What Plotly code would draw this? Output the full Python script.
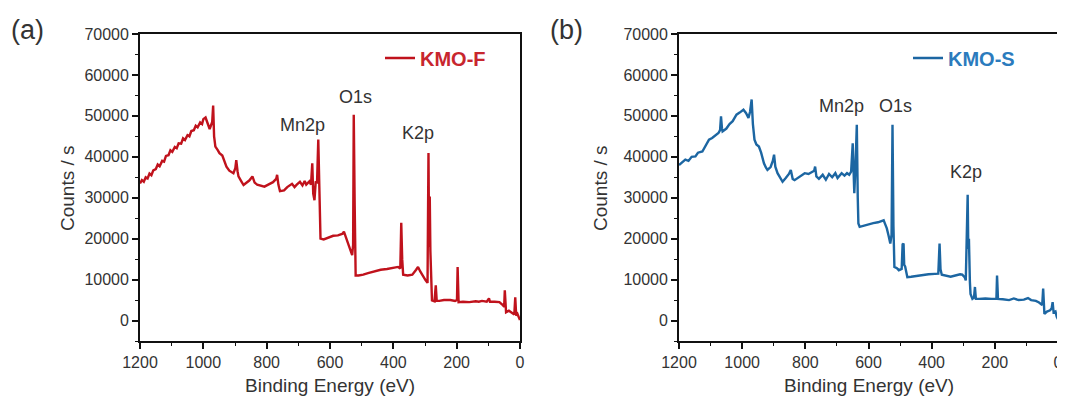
import plotly.graph_objects as go

# ---------------- data ----------------
be_a = [1200, 1194, 1188, 1182, 1176, 1170, 1164, 1158, 1150, 1144, 1138, 1130, 1124, 1118, 1110, 1104,
        1098, 1090, 1084, 1078, 1070, 1064, 1058, 1050, 1044, 1038, 1030, 1024, 1018, 1010, 1004, 1000,
        993, 985, 980, 972, 969, 966, 962, 955, 949, 940, 932, 927, 918,
        905, 899, 896, 892, 889, 880, 873, 865, 855, 845, 838, 830, 820, 807, 795, 780, 770, 767, 763,
        758, 745, 735, 720, 712, 705, 695, 687, 680, 675, 665, 660, 656, 653, 649, 645, 641, 637, 634, 632, 630,
        620, 605, 590, 575, 560, 556, 550, 545, 538, 530, 527, 525, 522, 519, 510, 495, 480, 460, 440,
        420, 400, 385, 378, 375, 372, 369, 355, 340, 328, 322, 315, 305, 298, 292, 289, 287, 285, 283,
        280, 278, 270, 266, 263, 255, 240, 220, 205, 199, 197, 194, 180, 160, 140, 130, 120, 105, 98,
        95, 80, 65, 55, 50, 48, 46, 44, 35, 25, 18, 15, 12, 8, 5, 0]
cps_a = [33500, 34300, 33900, 35000, 34700, 35900, 35500, 36700, 37000, 38100, 37700, 39000, 38800, 40200,
         40400, 41600, 41200, 42400, 42100, 43300, 43200, 44500, 44100, 45300, 45000, 46300, 46500, 47600,
         47200, 48400, 48000, 49200, 49600, 48000, 46800, 48500, 52500, 45000, 42500,
         41700, 40900, 40300, 38500, 37600, 36600, 36000, 37200, 39200, 36500, 35200, 34000, 33100, 33600,
         34200, 35200, 33700, 33200, 32900, 32700, 33200, 33800, 34600, 35600, 33200, 31600, 31800, 32600,
         33400, 32600, 33200, 33900, 33000, 34100, 33200, 34000, 33200, 38400, 31000, 29400, 34000, 33500,
         44200, 30000, 27800, 20000, 19800, 20300, 20700, 20800, 21200, 21700, 20400, 19200, 17800, 16000,
         18500, 50300, 28000, 11000, 11000, 11200, 11600, 12000, 12400, 12600, 12800, 13100, 12700, 23900,
         15000, 11200, 11000, 11200, 12400, 13100, 12000, 10500, 9800, 9200, 40900, 18000, 30300, 17000,
         9000, 4900, 4700, 8600, 4800, 4800, 5000, 5000, 4800, 5000, 13100, 4500, 4600, 4500, 4700, 4600,
         4800, 4600, 5400, 4600, 4600, 4500, 3800, 3400, 7400, 3600, 2000, 2400, 1800, 1500, 5700, 1200,
         1600, 800, 100]

be_b = [1200, 1190, 1180, 1170, 1160, 1148, 1140, 1126, 1115, 1105, 1095, 1085, 1075, 1070, 1067, 1064,
        1062, 1050, 1040, 1030, 1018, 1008, 996, 988, 980, 975, 970, 966, 961, 955, 947, 940, 931, 925,
        920, 910, 903, 899, 895, 888, 880, 872, 862, 852, 846, 840, 834, 820, 810, 802, 790, 780, 772,
        769, 765, 757, 745, 735, 725, 715, 705, 698, 693, 685, 676, 668, 661, 655, 650, 647, 645, 641,
        637, 634, 632, 628, 615, 600, 585, 570, 560, 552, 546, 542, 536, 531, 527, 524, 521, 518, 510,
        504, 495, 492, 489, 487, 484, 480, 477, 465, 450, 430, 410, 390, 379, 375, 372, 368, 355, 340,
        325, 310, 303, 295, 292, 288, 286, 284, 282, 279, 277, 271, 266, 263, 260, 250, 230, 210, 195,
        193, 190, 175, 155, 140, 125, 108, 95, 85, 70, 60, 50, 47, 45, 43, 35, 25, 20, 17, 14, 8, 4, 0]
cps_b = [38000, 38600, 39300, 39000, 40000, 40100, 41000, 41300, 42800, 44200, 44600, 45100, 45800, 46500,
         49900, 47000, 46200, 46900, 48000, 48700, 50300, 50800, 51500, 50700, 49500, 51000, 54000, 48000,
         44200, 43000, 42500, 41000, 38400, 37400, 36800, 37500, 39000, 40500, 37600, 36000, 35000, 33900,
         34800, 35800, 36800, 34600, 34300, 35000, 35500, 36000, 35800, 36200, 36600, 37600, 35200, 34600,
         35600, 34400, 35800, 35000, 36000, 34800, 35200, 36000, 35400, 36000, 35600, 36400, 43300, 34000,
         31100, 38000, 47800, 30000, 23700, 22900, 23200, 23400, 23800, 24000, 24300, 24500, 23300, 22500,
         20600, 18800, 21000, 47800, 23000, 13100, 12800, 12300, 12600, 18600, 18800, 13600, 13200, 11700,
         10600, 10700, 10900, 11100, 11300, 11400, 11450, 18800, 12500, 11200, 11000, 10700, 11000, 11300,
         11200, 10500, 9800, 21000, 30700, 17500, 20000, 9500, 6500, 5300, 5600, 8200, 5300, 5300, 5400,
         5300, 5300, 11000, 5300, 5200, 5000, 5400, 5000, 5100, 5500, 5000, 4800, 4400, 3800, 7800, 2800,
         1600, 2200, 2500, 3000, 4500, 2000, 2200, 900, 300]

series_names = ["KMO-F", "KMO-S"]
peak_labels = ["Mn2p", "O1s", "K2p"]
x_ticks = [1200, 1000, 800, 600, 400, 200, 0]
y_ticks = [0, 10000, 20000, 30000, 40000, 50000, 60000, 70000]

# ---------------- styling ----------------
RED = "#c0121c"
BLUE = "#1c66a2"
RED_TXT = "#c8262e"
BLUE_TXT = "#2b7bbd"
TXT = "#333333"
FONT = "Liberation Sans, Arial, sans-serif"

# the page body has an 8 px margin, so the figure starts at screen (8, 8)
OFF = 8
W, H = 1065 - OFF, 406 - OFF
FRAME_TOP, FRAME_BOTTOM = 34, 341          # screen pixels
T = FRAME_TOP - OFF
B = H - (FRAME_BOTTOM - OFF)
plot_h = H - T - B

def px(p):
    """screen column -> paper x"""
    return (p - OFF) / W

def py(p):
    """screen row -> paper y"""
    return (H - B - (p - OFF)) / plot_h

fig = go.Figure()
fig.add_trace(go.Scatter(x=be_a, y=cps_a, mode="lines", name="<b>" + series_names[0] + "</b>",
                         line=dict(color=RED, width=2.4), xaxis="x", yaxis="y", legend="legend"))
fig.add_trace(go.Scatter(x=be_b, y=cps_b, mode="lines", name="<b>" + series_names[1] + "</b>",
                         line=dict(color=BLUE, width=2.4), xaxis="x2", yaxis="y2", legend="legend2"))

axis_common = dict(showline=True, linecolor="#111111", linewidth=1.8, mirror=True,
                   ticks="outside", ticklen=6, tickwidth=1.5, tickcolor="#111111",
                   showgrid=False, zeroline=False, automargin=False,
                   tickfont=dict(family=FONT, size=16, color=TXT))

xa = dict(axis_common, range=[1200, 0], tickvals=x_ticks,
          minor=dict(dtick=100, ticks="outside", ticklen=3, tickwidth=1.3, tickcolor="#111111"))
ya = dict(axis_common, range=[-5000, 70000], tickvals=y_ticks, tickformat="d",
          minor=dict(dtick=5000, ticks="outside", ticklen=3, tickwidth=1.3, tickcolor="#111111"))

ax_a = (140, 520)   # screen columns of frame (a)
ax_b = (679, 1058)  # screen columns of frame (b)

fig.update_layout(
    width=W, height=H,
    margin=dict(l=0, r=0, t=T, b=B, autoexpand=False),
    paper_bgcolor="white", plot_bgcolor="white",
    xaxis=dict(xa, domain=[px(ax_a[0]), px(ax_a[1])], anchor="y"),
    yaxis=dict(ya, domain=[0, 1], anchor="x"),
    xaxis2=dict(xa, domain=[px(ax_b[0]), min(1.0, px(ax_b[1]))], anchor="y2"),
    yaxis2=dict(ya, domain=[0, 1], anchor="x2"),
    legend=dict(x=px(380), y=py(58), xanchor="left", yanchor="middle", bgcolor="rgba(0,0,0,0)",
                font=dict(family=FONT, size=20, color=RED_TXT), borderwidth=0),
    legend2=dict(x=px(908), y=py(58), xanchor="left", yanchor="middle", bgcolor="rgba(0,0,0,0)",
                 font=dict(family=FONT, size=20, color=BLUE_TXT), borderwidth=0),
    showlegend=True,
)

def note(text, x, y, size, xref="paper", yref="paper", angle=0):
    return dict(text=text, x=x, y=y, xref=xref, yref=yref, showarrow=False, textangle=angle,
                xanchor="center", yanchor="middle", font=dict(family=FONT, size=size, color=TXT))

ann = []
# panel letters
ann.append(note("(a)", px(27), py(30), 27))
ann.append(note("(b)", px(566), py(30), 27))
# axis titles
for cx, xc in [(67, (ax_a[0] + ax_a[1]) / 2), (600, (ax_b[0] + ax_b[1]) / 2)]:
    ann.append(note("Counts / s", px(cx), py(188), 19, angle=-90))
    ann.append(note("Binding Energy (eV)", px(xc), py(385), 19))
# peak labels (data coordinates)
pos_a = [(688, 47700), (518, 54600), (322, 45800)]
pos_b = [(684, 52400), (513, 52400), (291, 36300)]
for lab, (x, y) in zip(peak_labels, pos_a):
    ann.append(note(lab, x, y, 18, xref="x", yref="y"))
for lab, (x, y) in zip(peak_labels, pos_b):
    ann.append(note(lab, x, y, 18, xref="x2", yref="y2"))
fig.update_layout(annotations=ann)

fig.write_html("out.html")
